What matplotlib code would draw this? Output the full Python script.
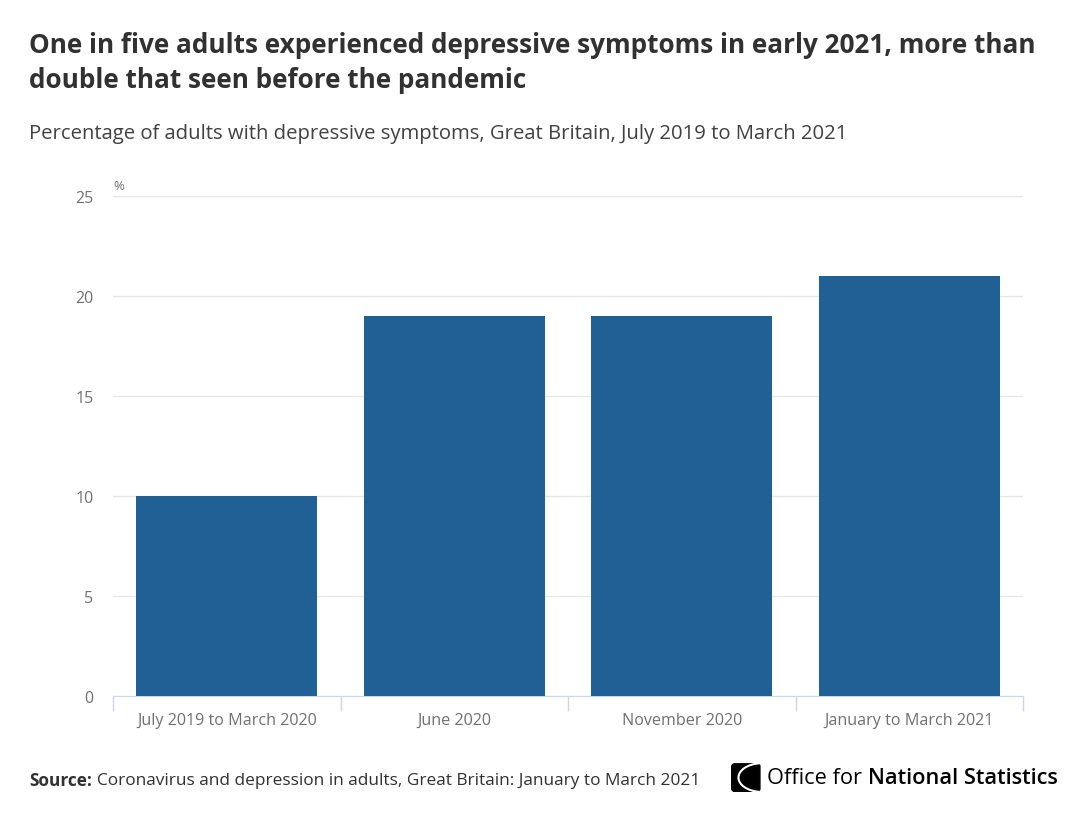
"""Adults with depressive symptoms, Great Britain, July 2019 to March 2021."""

import matplotlib

matplotlib.use("Agg")
import matplotlib.pyplot as plt
from matplotlib.patches import FancyBboxPatch, Arc

periodos = ["July 2019 to March 2020", "June 2020", "November 2020", "January to March 2021"]
percentuais = [10, 19, 19, 21]
yticks = [0, 5, 10, 15, 20, 25]

AZUL = "#206095"
TEXTO = "#323132"
CINZA = "#707070"

plt.rcParams["font.family"] = ["Open Sans", "DejaVu Sans"]

fig = plt.figure(figsize=(10.88, 8.2), dpi=100)
ax = fig.add_axes([0.1039, 0.15, 0.8364, 0.6098])

x = list(range(len(periodos)))
ax.bar(x, percentuais, width=0.795, color=AZUL, zorder=3)
ax.set_xlim(-0.5, len(periodos) - 0.5)
ax.set_ylim(0, 25)
ax.set_yticks(yticks)
ax.yaxis.grid(True, color="#e6e6e6", linewidth=1, zorder=0)
ax.tick_params(axis="y", length=0, pad=14, labelsize=11.5, labelcolor=CINZA)

ax.set_xticks(x)
ax.set_xticklabels(periodos)
ax.tick_params(axis="x", length=0, pad=20, labelsize=11.6, labelcolor=CINZA)
for rotulo in ax.get_xticklabels():
    rotulo.set_verticalalignment("baseline")
ax.set_xticks([i - 0.5 for i in range(len(periodos) + 1)], minor=True)
ax.tick_params(axis="x", which="minor", length=11, color="#ccd6eb", width=1)

for lado in ["top", "right", "left"]:
    ax.spines[lado].set_visible(False)
ax.spines["bottom"].set_color("#ccd6eb")

ax.text(0.0, 25.2, "%", fontsize=9.5, color=CINZA, va="bottom", ha="left",
        transform=ax.get_yaxis_transform())

fig.text(0.027, 0.944, "One in five adults experienced depressive symptoms in early 2021, more than",
         fontsize=18.8, fontweight="bold", color=TEXTO, va="center")
fig.text(0.027, 0.902, "double that seen before the pandemic",
         fontsize=18.8, fontweight="bold", color=TEXTO, va="center")
fig.text(0.027, 0.837, "Percentage of adults with depressive symptoms, Great Britain, July 2019 to March 2021",
         fontsize=14.55, color="#414042", va="center")

t = fig.text(0.027, 0.047, "Source:", fontsize=12.4, fontweight="bold", color=TEXTO, va="center")
fig.canvas.draw()
bb = t.get_window_extent()
fig.text(bb.x1 / fig.bbox.width + 0.004, 0.047,
         "Coronavirus and depression in adults, Great Britain: January to March 2021",
         fontsize=12.4, color=TEXTO, va="center")

# logo
logo = fig.add_axes([0.672, 0.033, 0.027, 0.035])
logo.set_xlim(0, 1)
logo.set_ylim(0, 1)
logo.axis("off")
logo.add_patch(FancyBboxPatch((0.02, 0.02), 0.96, 0.96, boxstyle="round,pad=0,rounding_size=0.1",
                              color="black"))
logo.add_patch(Arc((1.05, 0.5), 1.6, 1.0, theta1=100, theta2=260, color="white", linewidth=1.5))
t1 = fig.text(0.705, 0.050, "Office for ", fontsize=15.7, color="black", va="center")
fig.canvas.draw()
b1 = t1.get_window_extent()
fig.text(b1.x1 / fig.bbox.width, 0.050, "National Statistics", fontsize=15.7,
         fontweight="semibold", color="black", va="center")

fig.savefig("out.png", dpi=100)
